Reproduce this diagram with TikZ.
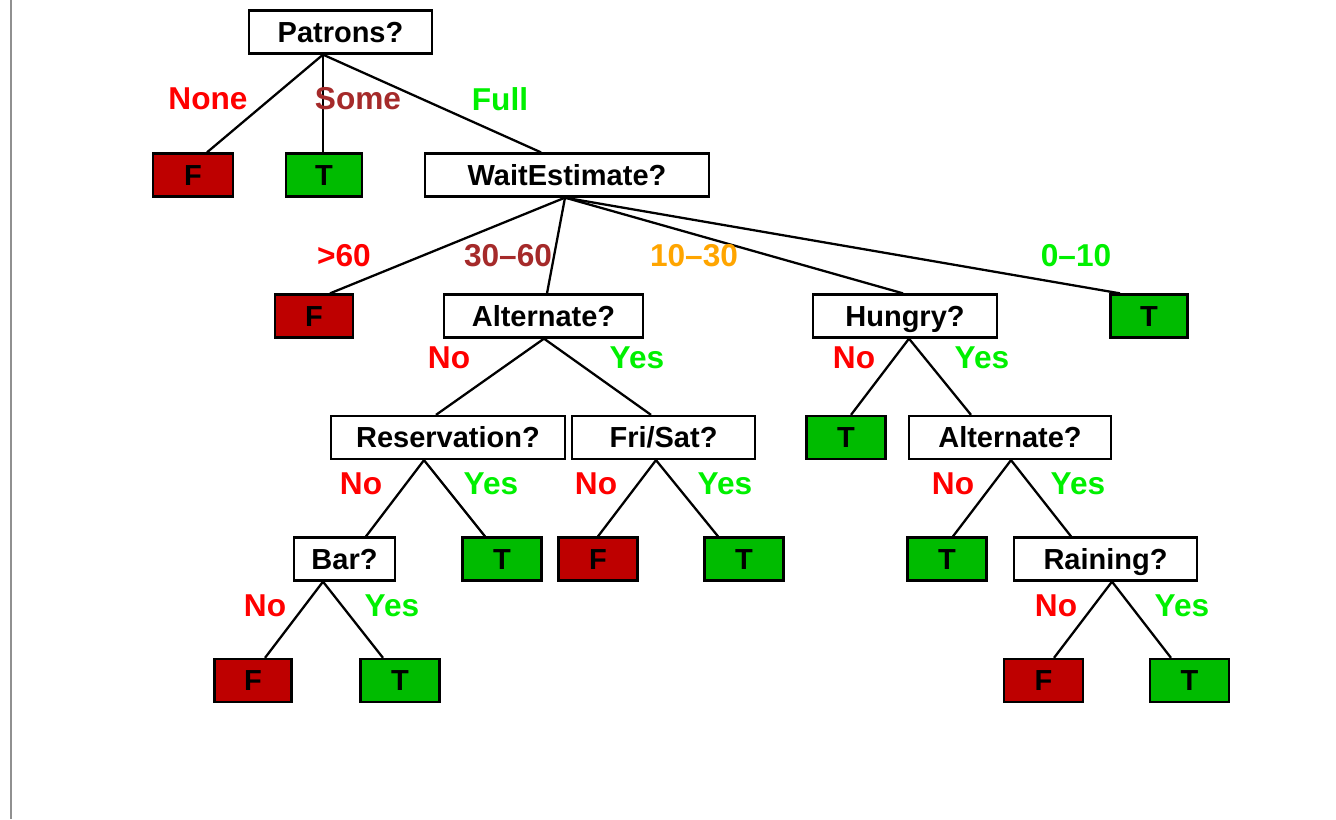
\documentclass[tikz,border=0pt]{standalone}
\usepackage{fontspec}
\setmainfont{Liberation Sans}
\usepackage{tikz}
\usetikzlibrary{calc}
\usepackage{xcolor}
\definecolor{leafRed}{HTML}{BE0000}
\definecolor{leafGreen}{HTML}{00BB00}
\definecolor{labRed}{HTML}{FF0000}
\definecolor{labBrown}{HTML}{A52A2A}
\definecolor{labGreen}{HTML}{00F000}
\definecolor{labOrange}{HTML}{FFA500}
\definecolor{frameGray}{HTML}{909090}

\tikzset{
  qbox/.style={draw, fill=white, line width=1.3pt, minimum height=0.86cm,
               inner sep=0pt, text height=11.8pt, text depth=0pt,
               font=\fontsize{16.5}{18}\selectfont\bfseries},
  leafF/.style={qbox, fill=leafRed, minimum width=1.58cm},
  leafT/.style={qbox, fill=leafGreen, minimum width=1.58cm},
  branch/.style={font=\fontsize{18}{20}\selectfont\bfseries, inner sep=0pt},
  treeedge/.style={line width=1.3pt},
}

\begin{document}
\begin{tikzpicture}[x=0.02cm, y=-0.02cm]
  \useasboundingbox (0,0) rectangle (1336,819);
  \draw[frameGray, line width=1.2pt] (11,0) -- (11,819);

  % question nodes
  \node[qbox, minimum width=3.66cm] (pat)  at (340.5,32)  {Patrons?};
  \node[qbox, minimum width=5.68cm] (wait) at (567,175)   {WaitEstimate?};
  \node[qbox, minimum width=3.98cm] (alt1) at (543.5,316) {Alternate?};
  \node[qbox, minimum width=3.68cm] (hun)  at (905,316)   {Hungry?};
  \node[qbox, minimum width=4.68cm] (res)  at (448,437.5) {Reservation?};
  \node[qbox, minimum width=3.66cm] (fri)  at (663.5,437.5) {Fri/Sat?};
  \node[qbox, minimum width=4.04cm] (alt2) at (1010,437.5) {Alternate?};
  \node[qbox, minimum width=2.02cm] (bar)  at (344.5,559) {Bar?};
  \node[qbox, minimum width=3.66cm] (rain) at (1105.5,559) {Raining?};

  % leaves
  \node[leafF, minimum width=1.6cm]  (f1) at (193,175)    {F};
  \node[leafT, minimum width=1.52cm] (t1) at (324,175)    {T};
  \node[leafF, minimum width=1.56cm] (f2) at (314,316)    {F};
  \node[leafT, minimum width=1.54cm] (t2) at (1149,316)   {T};
  \node[leafT] (t3) at (846,437.5)  {T};
  \node[leafT] (t4) at (502,559)    {T};
  \node[leafF] (f3) at (598,559)    {F};
  \node[leafT] (t5) at (744,559)    {T};
  \node[leafT] (t6) at (947,559)    {T};
  \node[leafF, minimum width=1.54cm] (f4) at (253,680.5)  {F};
  \node[leafT] (t7) at (400,680.5)  {T};
  \node[leafF] (f5) at (1043.5,680.5) {F};
  \node[leafT] (t8) at (1189.5,680.5) {T};

  % branches: parent/offset/child/offset
  \foreach \p/\pa/\c/\ca in {pat/-17.5/f1/14, pat/-17.5/t1/-1, pat/-17.5/wait/-26,
      wait/-2/f2/16, wait/-2/alt1/3.5, wait/-2/hun/-2, wait/-2/t2/-29,
      alt1/0.5/res/-12, alt1/0.5/fri/-12.5,
      res/-24/bar/21.5, res/-24/t4/-17,
      fri/-7.5/f3/0, fri/-7.5/t5/-26,
      hun/4/t3/5, hun/4/alt2/-39,
      alt2/1/t6/6, alt2/1/rain/-34.5,
      bar/-21.5/f4/12, bar/-21.5/t7/-17,
      rain/6.5/f5/10.5, rain/6.5/t8/-18.5}
    \draw[treeedge] ($(\p.south)+(\pa,0)$) -- ($(\c.north)+(\ca,0)$);

  % branch labels
  \node[branch, text=labRed]    (l-none) at (208,99)  {None};
  \node[branch, text=labBrown]  (l-some) at (358,99)  {Some};
  \node[branch, text=labGreen]  (l-full) at (500,99)  {Full};
  \node[branch, text=labRed]    (l-60)   at (344,256) {>60};
  \node[branch, text=labBrown]  (l-3060) at (508,256) {30–60};
  \node[branch, text=labOrange] (l-1030) at (694,256) {10–30};
  \node[branch, text=labGreen]  (l-010)  at (1076,256) {0–10};
  \node[branch, text=labRed]    (l-a1n)  at (449,358) {No};
  \node[branch, text=labGreen]  (l-a1y)  at (637,358) {Yes};
  \node[branch, text=labRed]    (l-hn)   at (854,358) {No};
  \node[branch, text=labGreen]  (l-hy)   at (982,358) {Yes};
  \node[branch, text=labRed]    (l-rn)   at (361,484) {No};
  \node[branch, text=labGreen]  (l-ry)   at (491,484) {Yes};
  \node[branch, text=labRed]    (l-fn)   at (596,484) {No};
  \node[branch, text=labGreen]  (l-fy)   at (725,484) {Yes};
  \node[branch, text=labRed]    (l-a2n)  at (953,484) {No};
  \node[branch, text=labGreen]  (l-a2y)  at (1078,484) {Yes};
  \node[branch, text=labRed]    (l-bn)   at (265,606) {No};
  \node[branch, text=labGreen]  (l-by)   at (392,606) {Yes};
  \node[branch, text=labRed]    (l-rnn)  at (1056,606) {No};
  \node[branch, text=labGreen]  (l-rny)  at (1182,606) {Yes};
\end{tikzpicture}
\end{document}
